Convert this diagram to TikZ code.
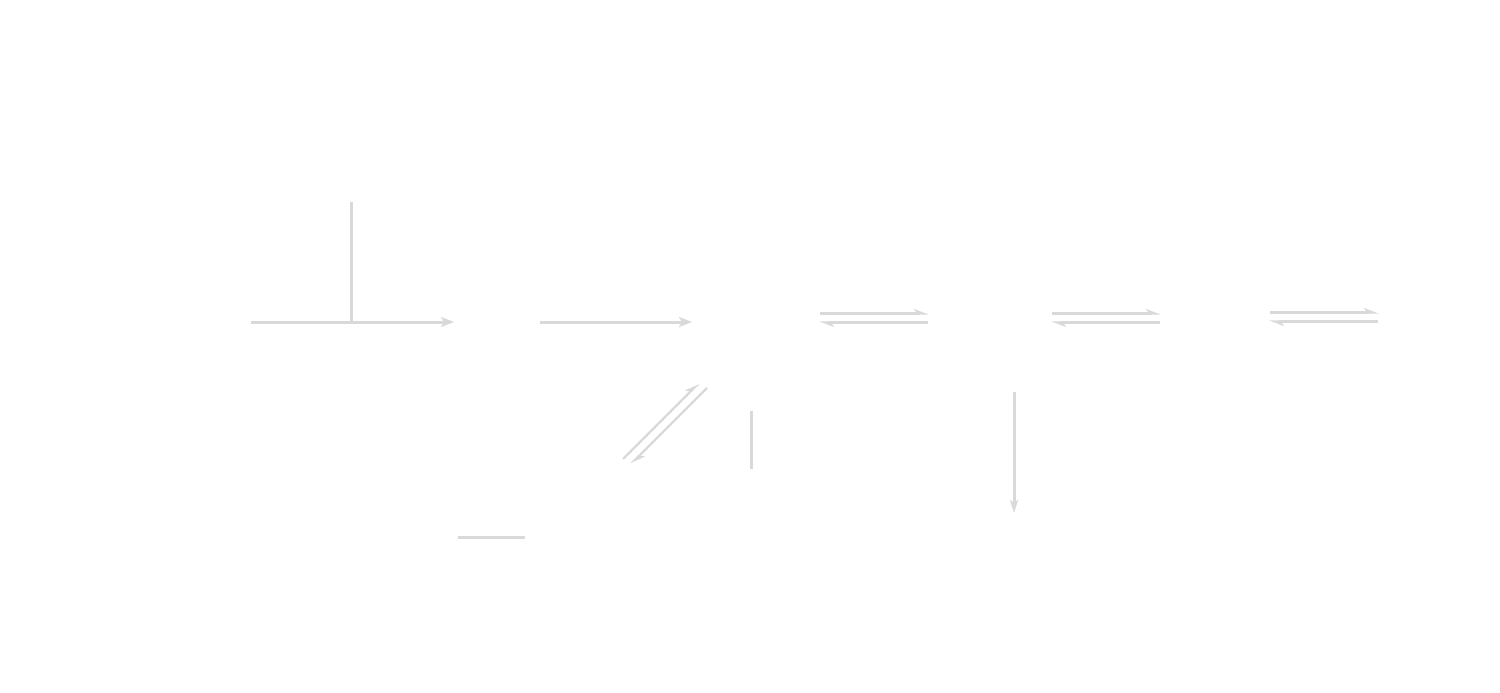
\documentclass[tikz,border=0pt]{standalone}
\usetikzlibrary{arrows.meta}
\definecolor{ln}{RGB}{217,217,217}
\tikzset{
  conn/.style={draw=ln, line width=3pt},
  eq/.style={draw=ln, line width=2.3pt},
  fwd/.style={-{Stealth[length=13pt,width=10pt,inset=3pt]}},
  harp/.style={-{Stealth[harpoon,length=12pt,width=9pt,inset=3pt]}},
}
\begin{document}
\begin{tikzpicture}[x=1pt,y=-1pt]
\useasboundingbox[fill=white] (0,0) rectangle (1500,693);
% coordinates
\coordinate (a0) at (251,322);
\coordinate (a1) at (454,322);
\coordinate (j)  at (351,322);
\coordinate (jt) at (351,202);
\coordinate (b0) at (540,322);
\coordinate (b1) at (692,322);
\coordinate (c0) at (820,313.5);
\coordinate (c1) at (929,313.5);
\coordinate (c2) at (928,322.5);
\coordinate (c3) at (819,322.5);
\coordinate (d0) at (1052,313.5);
\coordinate (d1) at (1161,313.5);
\coordinate (d2) at (1160,322.5);
\coordinate (d3) at (1051,322.5);
\coordinate (e0) at (1270,312.5);
\coordinate (e1) at (1379,312.5);
\coordinate (e2) at (1378,321.5);
\coordinate (e3) at (1269,321.5);
\coordinate (f0) at (623,459);
\coordinate (f1) at (699,383);
\coordinate (f2) at (707,388);
\coordinate (f3) at (631,464);
\coordinate (g0) at (751,411);
\coordinate (g1) at (751,469);
\coordinate (h0) at (458,537.5);
\coordinate (h1) at (525,537.5);
\coordinate (k0) at (1014,392);
\coordinate (k1) at (1014,513);
% connectors
\draw[conn,fwd] (a0) -- (a1);
\draw[conn] (jt) -- (j);
\draw[conn,fwd] (b0) -- (b1);
\draw[eq,harp] (c0) -- (c1);
\draw[eq,harp] (c2) -- (c3);
\draw[eq,harp] (d0) -- (d1);
\draw[eq,harp] (d2) -- (d3);
\draw[eq,harp] (e0) -- (e1);
\draw[eq,harp] (e2) -- (e3);
\draw[eq,harp] (f0) -- (f1);
\draw[eq,harp] (f2) -- (f3);
\draw[conn] (g0) -- (g1);
\draw[draw=ln, line width=3.4pt] (h0) -- (h1);
\draw[conn,-{Stealth[length=13pt,width=8pt,inset=3pt]}] (k0) -- (k1);
\end{tikzpicture}
\end{document}
